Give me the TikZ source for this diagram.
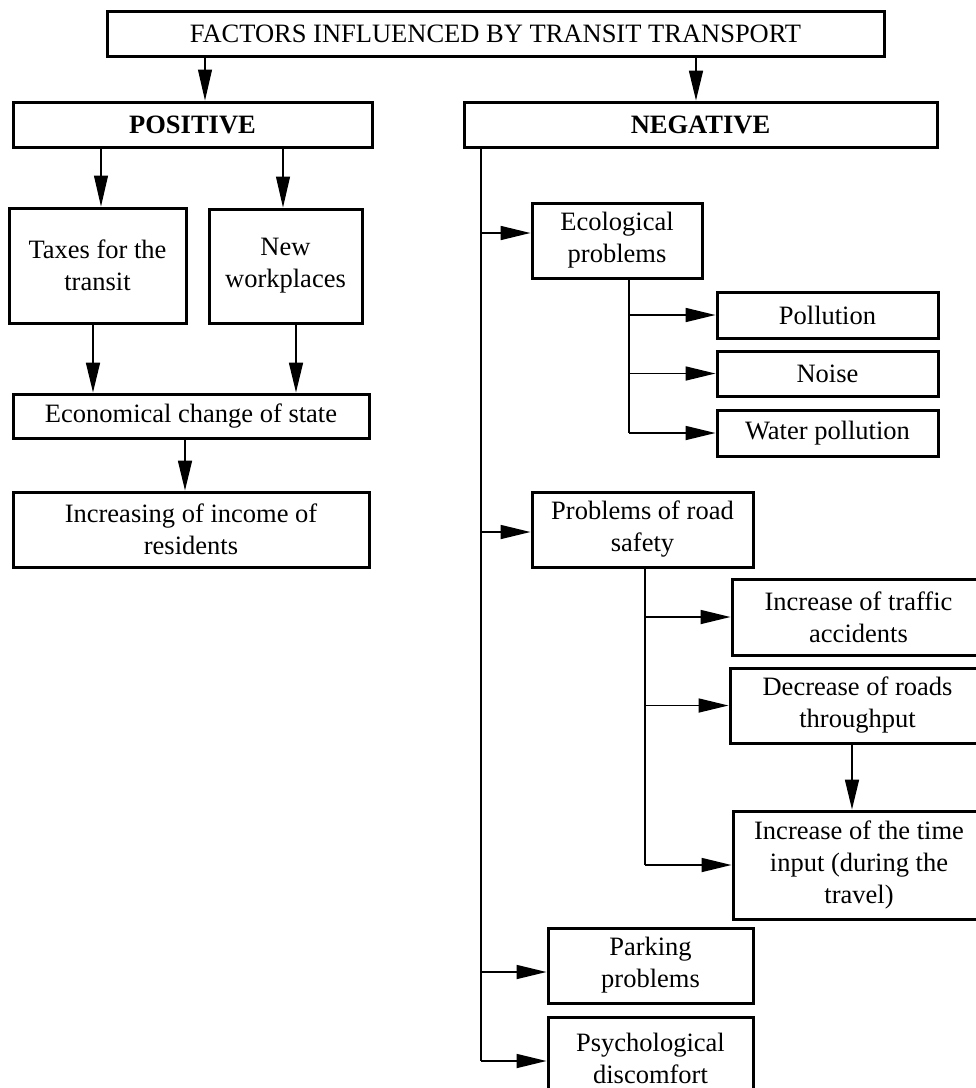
\documentclass[tikz,border=0pt]{standalone}
\usepackage{fontspec}
\setmainfont{Liberation Serif}
\usetikzlibrary{arrows.meta}
\newcommand\mybox[6]{\node[bx, minimum width={(#4-#2)*1pt}, minimum height={(#5-#3)*1pt}] (#1) at ({(#2+#4)/2},{(#3+#5)/2}) {#6};}
\begin{document}
\begin{tikzpicture}[x=1pt,y=-1pt,
  bx/.style={draw, line width=3pt, inner sep=0pt, align=center, font=\fontsize{26.5}{32}\selectfont},
  arr/.style={line width=1.7pt, -{Triangle[length=30pt,width=14pt]}},
  thinarr/.style={line width=1.1pt, -{Triangle[length=31pt,width=14pt]}},
  ln/.style={line width=1.7pt}]
\useasboundingbox (0,0) rectangle (976,1088);
\clip (0,0) rectangle (976,1088);
\fill[white] (0,0) rectangle (976,1088);
% boxes
\mybox{top}{107}{11}{884}{56}{FACTORS INFLUENCED BY TRANSIT TRANSPORT}
\mybox{pos}{13}{102}{372}{147}{\textbf{POSITIVE}}
\mybox{neg}{464}{102}{937}{147}{\textbf{NEGATIVE}}
\mybox{tax}{9}{208}{186}{323}{Taxes for the\\transit}
\mybox{new}{209}{209}{362}{323}{New\\workplaces}
\mybox{eco}{13}{394}{369}{438}{Economical change of state}
\mybox{inc}{13}{492}{369}{567}{Increasing of income of\\residents}
\mybox{ecol}{532}{203}{702}{278}{Ecological\\problems}
\mybox{pol}{717}{292}{938}{338}{Pollution}
\mybox{noi}{717}{351}{938}{396}{Noise}
\mybox{wat}{717}{410}{938}{456}{Water pollution}
\mybox{road}{532}{492}{753}{567}{Problems of road\\safety}
\mybox{traf}{732}{579}{985}{655}{Increase of traffic\\accidents}
\mybox{dec}{730}{668}{985}{743}{Decrease of roads\\throughput}
\mybox{time}{733}{811}{985}{919}{Increase of the time\\input (during the\\travel)}
\mybox{park}{548}{928}{753}{1003}{Parking\\problems}
\mybox{psy}{548}{1017}{753}{1100}{Psychological\\discomfort}
% helper coordinates
\coordinate (a1) at (205,0);
\coordinate (a2) at (696,0);
\coordinate (b1) at (101,0);
\coordinate (b2) at (283,0);
\coordinate (c1) at (93,0);
\coordinate (c2) at (296,0);
\coordinate (d1) at (185,0);
\coordinate (t0) at (481,0);
\coordinate (s1) at (629,0);
\coordinate (s2) at (645,0);
\coordinate (s3) at (852,0);
\coordinate (e1) at (0,233);
\coordinate (e2) at (0,532);
\coordinate (e3) at (0,972);
\coordinate (e4) at (0,1061);
% positive side
\draw[thinarr] (top.south -| a1) -- (pos.north -| a1);
\draw[arr] (top.south -| a2) -- (neg.north -| a2);
\draw[thinarr] (pos.south -| b1) -- (tax.north -| b1);
\draw[thinarr] (pos.south -| b2) -- (new.north -| b2);
\draw[arr] (tax.south -| c1) -- (eco.north -| c1);
\draw[arr] (new.south -| c2) -- (eco.north -| c2);
\draw[arr] (eco.south -| d1) -- (inc.north -| d1);
% negative trunk
\draw[ln] (neg.south -| t0) -- (t0 |- e4);
\draw[arr] (t0 |- e1) -- (ecol.west |- e1);
\draw[arr] (t0 |- e2) -- (road.west |- e2);
\draw[arr] (t0 |- e3) -- (park.west |- e3);
\draw[arr] (t0 |- e4) -- (psy.west |- e4);
% ecological branch
\draw[ln] (ecol.south -| s1) -- (s1 |- wat.west);
\draw[arr] (s1 |- pol.west) -- (pol.west);
\draw[arr] (s1 |- noi.west) -- (noi.west);
\draw[arr] (s1 |- wat.west) -- (wat.west);
% road safety branch
\draw[ln] (road.south -| s2) -- (s2 |- time.west);
\draw[arr] (s2 |- traf.west) -- (traf.west);
\draw[arr] (s2 |- dec.west) -- (dec.west);
\draw[arr] (s2 |- time.west) -- (time.west);
\draw[arr] (dec.south -| s3) -- (time.north -| s3);
\end{tikzpicture}
\end{document}
